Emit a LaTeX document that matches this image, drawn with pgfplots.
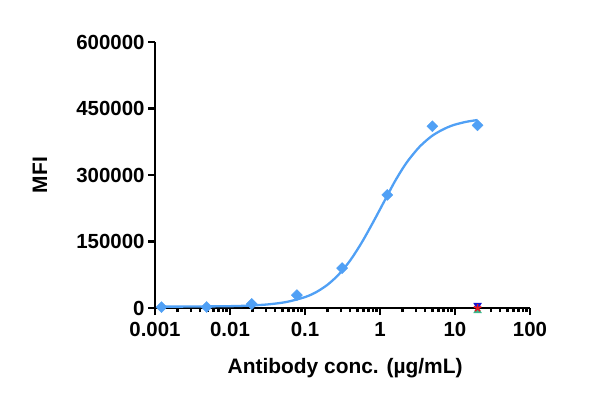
\documentclass[border=0pt]{standalone}
\usepackage{pgfplots}
\pgfplotsset{compat=1.18}
\usetikzlibrary{calc}
\usepackage{fontspec}
\setmainfont{Liberation Sans}
\definecolor{curveblue}{RGB}{80,160,245}
\definecolor{trired}{RGB}{235,20,30}
\definecolor{triblue}{RGB}{20,20,210}
\definecolor{trigreen}{RGB}{60,185,140}

\begin{document}
\begin{tikzpicture}
\begin{axis}[
    name=ax,
    scale only axis,
    width=375bp, height=266bp,
    xmode=log,
    xmin=0.001, xmax=100,
    ymin=0, ymax=600000,
    ytick={0,150000,300000,450000,600000},
    axis lines=left,
    every outer x axis line/.append style={line width=2.8bp, -},
    every outer y axis line/.append style={line width=2.8bp, -},
    every tick/.style={black, line width=2.4bp},
    major tick length=7bp,
    minor tick length=4bp,
    tick align=outside,
    minor y tick num=0,
    tick label style={font=\fontsize{20.5}{22}\selectfont\bfseries},
    /pgf/number format/assume math mode=true,
    scaled y ticks=false,
    yticklabel={\pgfmathprintnumber[fixed,precision=0,1000 sep={}]{\tick}},
    log ticks with fixed point,
    xticklabel style={yshift=-4bp},
    xlabel={\bfseries Antibody conc. (µg/mL)},
    ylabel={\bfseries MFI},
    label style={font=\fontsize{21}{23}\selectfont},
    xlabel style={at={(axis description cs:0.507,-0.2256)}, anchor=center},
    ylabel style={at={(axis description cs:-0.307,0.5)}, anchor=center},
    clip=false,
]
% fitted curve
\addplot[curveblue, line width=2.3bp, smooth] coordinates {
    (0.00122,3070) (0.003162,3255) (0.01,4138) (0.01778,5400)
    (0.03162,8036) (0.05623,13500) (0.1,24600) (0.1413,35900) (0.1995,52400)
    (0.2818,75600) (0.3981,106700) (0.5623,145800) (0.7943,190900)
    (1.122,238400) (1.585,286000) (2.239,326800) (3.162,358600)
    (3.981,375200) (5.012,389000) (6.310,399200) (7.943,407500)
    (10,413700) (14.13,420000) (20,424000)
};
% data points
\addplot[only marks, mark=square*, mark options={rotate=45}, mark size=3.9bp, curveblue] coordinates {
    (0.00122,2000) (0.00488,2300) (0.0195,9000) (0.078,29000)
    (0.3125,90000) (1.25,255000) (5,410000) (20,412000)
};
% control series
\addplot[only marks, mark=triangle*, mark size=4.5bp, trigreen] coordinates {(20,-6000)};
\addplot[only marks, mark=triangle*, mark options={rotate=180}, mark size=4.5bp, triblue] coordinates {(20,6000)};
\addplot[only marks, mark=star, mark size=4bp, line width=1.6bp, trired] coordinates {(20,0)};
\end{axis}
\pgfresetboundingbox
\path ($(ax.south west)+(-155bp,-93bp)$) rectangle ($(ax.north east)+(65bp,42bp)$);
\end{tikzpicture}
\end{document}
